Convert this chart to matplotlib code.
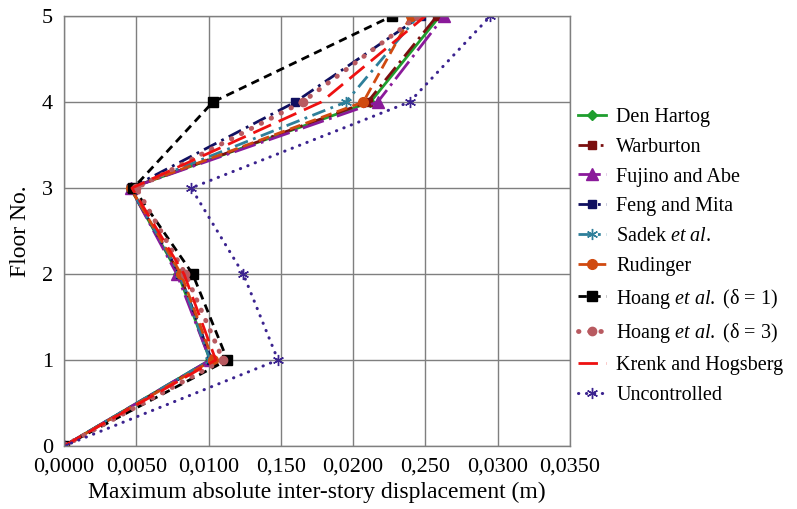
import matplotlib
matplotlib.use("Agg")
import matplotlib.pyplot as plt

floors = [0, 1, 2, 3, 4, 5]
den_hartog   = [0, 0.0101, 0.0079, 0.0046, 0.0212, 0.0260]
warburton    = [0, 0.0102, 0.0080, 0.0046, 0.0210, 0.0258]
fujino_abe   = [0, 0.0101, 0.0078, 0.0046, 0.0217, 0.0263]
feng_mita    = [0, 0.0102, 0.0080, 0.0046, 0.0160, 0.0247]
sadek        = [0, 0.0101, 0.0080, 0.0046, 0.0195, 0.0245]
rudinger     = [0, 0.0103, 0.0081, 0.0046, 0.0207, 0.0240]
hoang_d1     = [0, 0.0113, 0.0089, 0.0048, 0.0103, 0.0227]
hoang_d3     = [0, 0.0110, 0.0084, 0.0050, 0.0165, 0.0245]
krenk        = [0, 0.0105, 0.0083, 0.0047, 0.0178, 0.0250]
uncontrolled = [0, 0.0148, 0.0124, 0.0088, 0.0239, 0.0295]

x_ticks = [0, 0.005, 0.010, 0.015, 0.020, 0.025, 0.030, 0.035]
x_ticklabels = ['0,0000', '0,0050', '0,0100', '0,150', '0,0200', '0,250', '0,0300', '0,0350']

plt.rcParams['font.family'] = ['Liberation Serif', 'DejaVu Serif']
plt.rcParams['mathtext.fontset'] = 'custom'
plt.rcParams['mathtext.it'] = 'Liberation Serif:italic'
plt.rcParams['mathtext.rm'] = 'Liberation Serif'

fig = plt.figure(figsize=(7.97, 5.09), dpi=100)
ax = fig.add_axes([64/797, 1-446/509, (570-64)/797, (446-16)/509])

lw = 2.0
series = [
    (den_hartog, 'Den Hartog', dict(color='#1f9e2f', ls='-', marker='D', ms=5)),
    (warburton, 'Warburton', dict(color='#7a0f0f', ls=(0, (6, 2, 1, 2)), marker='s', ms=6)),
    (fujino_abe, 'Fujino and Abe', dict(color='#8a1a9a', ls=(0, (8, 2, 1, 2)), marker='^', ms=8)),
    (feng_mita, 'Feng and Mita', dict(color='#101060', ls=(0, (5, 2, 1, 2)), marker='s', ms=6)),
    (sadek, r'Sadek $\it{et\ al.}$', dict(color='#2e7f9a', ls=(0, (5, 2, 1, 2)), marker=(6, 2, 0), ms=8)),
    (rudinger, 'Rudinger', dict(color='#d04a10', ls=(0, (4, 2)), marker='o', ms=7)),
    (hoang_d1, r'Hoang $\it{et\ al.}$ (δ = 1)', dict(color='#000000', ls=(0, (3, 2)), marker='s', ms=7)),
    (hoang_d3, r'Hoang $\it{et\ al.}$ (δ = 3)', dict(color='#b85a60', ls=(0, (0.1, 2.2)), marker='o', ms=6, dash_capstyle='round', lw=3.5)),
    (krenk, 'Krenk and Hogsberg', dict(color='#ee1111', ls=(0, (7, 3)), marker='None')),
    (uncontrolled, 'Uncontrolled', dict(color='#3b238f', ls=(0, (0.1, 2.5)), marker=(6, 2, 0), ms=8, dash_capstyle='round', lw=2.2)),
]

for vals, label, st in series:
    st = dict(st)
    w = st.pop('lw', lw)
    ax.plot(vals, floors, label=label, lw=w, **st)

ax.set_xlim(0, 0.035)
ax.set_ylim(0, 5)
ax.set_xticks(x_ticks)
ax.set_xticklabels(x_ticklabels)
ax.set_yticks(floors)
ax.tick_params(axis='both', length=0, labelsize=16, pad=8)
ax.grid(True, color='#7f7f7f', lw=1)
for sp in ax.spines.values():
    sp.set_color('#7f7f7f')
    sp.set_linewidth(1)
ax.set_axisbelow(True)
ax.set_xlabel('Maximum absolute inter-story displacement (m)', fontsize=17, labelpad=4)
ax.set_ylabel('Floor No.', fontsize=17, labelpad=8)

ax.legend(loc='upper left', bbox_to_anchor=(1.0, 0.805), frameon=False, fontsize=14.5,
          handlelength=1.4, handletextpad=0.5, labelspacing=0.53, borderaxespad=0.0)

fig.savefig('out.png', dpi=100)
